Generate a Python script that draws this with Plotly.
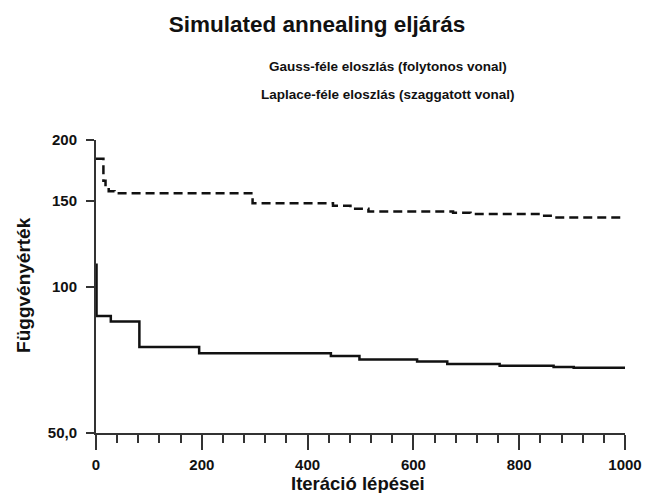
import plotly.graph_objects as go

# Gauss-féle eloszlás (folytonos vonal)
gauss_iter = [0, 1, 28, 82, 195, 444, 498, 607, 664, 763, 865, 903, 1000]
gauss_val = [110.8, 87.0, 84.7, 75.1, 72.9, 72.0, 70.8, 70.1, 69.3, 68.7, 68.3, 68.1, 68.0]

# Laplace-féle eloszlás (szaggatott vonal)
laplace_iter = [0, 14, 18, 24, 35, 296, 448, 481, 515, 675, 708, 840, 868, 1000]
laplace_val = [183.0, 165.0, 160.0, 157.0, 155.5, 148.3, 146.5, 144.4, 142.6, 141.8, 140.9, 139.7, 138.6, 138.6]

y_tickvals = [50, 100, 150, 200]
y_ticktext = ["50,0", "100", "150", "200"]
x_tickvals = [0, 200, 400, 600, 800, 1000]

FONT = "Arial, 'Liberation Sans', sans-serif"
INK = "#111111"

fig = go.Figure()
fig.add_trace(go.Scatter(x=gauss_iter, y=gauss_val, mode="lines", line_shape="hv",
                         line=dict(color=INK, width=2.5), showlegend=False))
fig.add_trace(go.Scatter(x=laplace_iter, y=laplace_val, mode="lines", line_shape="hv",
                         line=dict(color=INK, width=2.5, dash="9px,5px"), showlegend=False))

L, R, T, B = 96, 666 - 625.5, 140, 493 - 433.3
pw, ph = 666 - L - R, 493 - T - B

def px(xp):
    return (xp - L) / pw

def py(yp):
    return (493 - B - yp) / ph

fig.update_layout(
    width=666, height=493,
    margin=dict(l=L, r=R, t=T, b=B, pad=0),
    paper_bgcolor="white", plot_bgcolor="white",
    font=dict(family=FONT, color=INK),
    showlegend=False,
    title=dict(text="<b>Simulated annealing eljárás</b>", x=317 / 666, y=1 - 24 / 493,
               xanchor="center", yanchor="middle", font=dict(size=22.5, family=FONT, color=INK)),
    xaxis=dict(range=[0, 1000], tickvals=x_tickvals, ticks="outside", ticklen=15, tickwidth=2,
               tickcolor="#333", showline=True, linecolor="#333", linewidth=2, showgrid=False,
               zeroline=False, tickfont=dict(size=15, family=FONT, color=INK, weight="bold"),
               ticklabelstandoff=2,
               minor=dict(dtick=40, tick0=0, ticks="outside", ticklen=8, tickwidth=2,
                          tickcolor="#333", showgrid=False)),
    yaxis=dict(type="log", range=[1.69897, 2.30103], tickvals=y_tickvals, ticktext=y_ticktext,
               ticks="outside", ticklen=8, tickwidth=2, tickcolor="#333", showline=True,
               linecolor="#333", linewidth=2, showgrid=False, zeroline=False,
               tickfont=dict(size=15, family=FONT, color=INK, weight="bold"),
               ticklabelstandoff=6),
    annotations=[
        dict(text="<b>Gauss-féle eloszlás (folytonos vonal)</b>", x=px(388), y=py(66),
             xref="paper", yref="paper", showarrow=False, xanchor="center", yanchor="middle",
             font=dict(size=13.5, family=FONT, color=INK)),
        dict(text="<b>Laplace-féle eloszlás (szaggatott vonal)</b>", x=px(388), y=py(94),
             xref="paper", yref="paper", showarrow=False, xanchor="center", yanchor="middle",
             font=dict(size=13.5, family=FONT, color=INK)),
        dict(text="<b>Függvényérték</b>", x=px(24), y=py(285), textangle=-90,
             xref="paper", yref="paper", showarrow=False, xanchor="center", yanchor="middle",
             font=dict(size=19, family=FONT, color=INK)),
        dict(text="<b>Iteráció lépései</b>", x=px(358), y=py(484),
             xref="paper", yref="paper", showarrow=False, xanchor="center", yanchor="middle",
             font=dict(size=18.5, family=FONT, color=INK)),
    ],
)

fig.write_html("out.html", config={"displayModeBar": False},
               post_script="document.body.style.margin='0';document.body.style.overflow='hidden';")
